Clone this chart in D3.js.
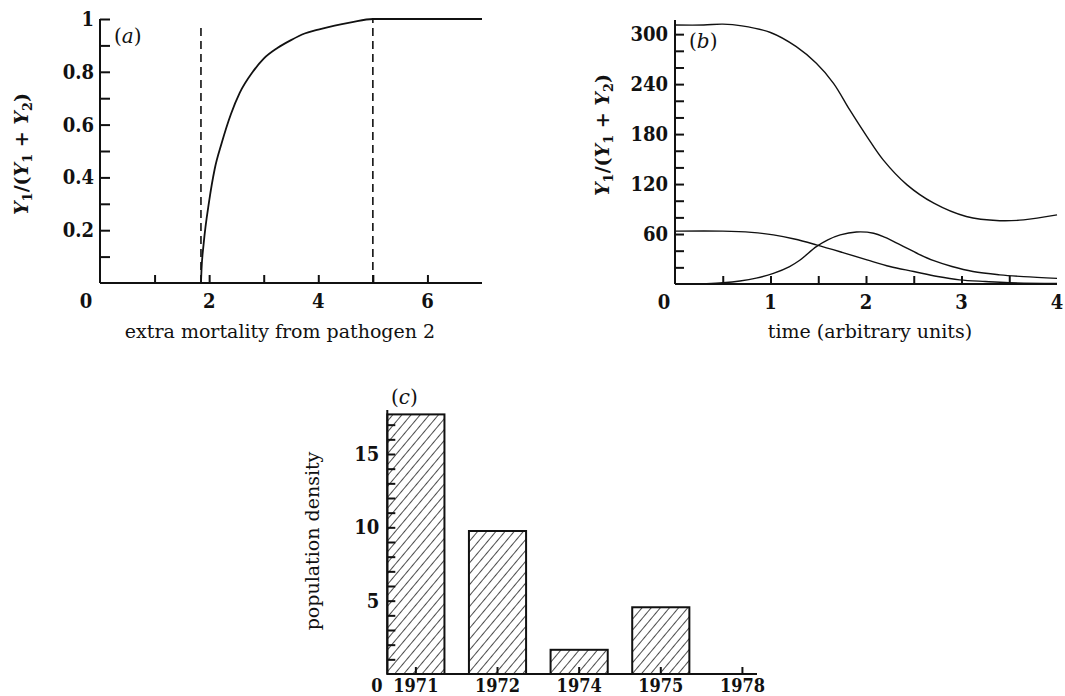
<!DOCTYPE html>
<html>
<head>
<meta charset="utf-8">
<script src="https://cdn.jsdelivr.net/npm/d3@7"></script>
<style>
  body { margin: 0; background: #fff; }
  svg { display: block; }
  .tick-lab { font-family: 'DejaVu Serif Condensed', 'DejaVu Serif', serif; font-weight: bold; font-size: 20px; fill: #111; }
  .ax-title { font-family: 'DejaVu Serif', serif; font-size: 19px; fill: #111; }
  .tag { font-family: 'DejaVu Serif', serif; font-size: 20px; fill: #111; }
  .y-title { font-family: 'DejaVu Serif', serif; font-size: 19px; font-weight: bold; fill: #111; }
</style>
</head>
<body>
<svg id="chart" width="1065" height="696"></svg>
<script>
// panel (a): fraction vs extra mortality
const mortX = [1.85, 1.86, 1.9, 2.0, 2.1, 2.23, 2.4, 2.56, 2.8, 3.0, 3.25, 3.5, 3.75, 4.0, 4.3, 4.6, 5.0, 6.0, 7.0];
const fracY = [0, 0.05, 0.15, 0.31, 0.43, 0.53, 0.64, 0.72, 0.8, 0.85, 0.89, 0.92, 0.945, 0.96, 0.975, 0.987, 1.0, 1.0, 1.0];
const dashX = [1.85, 5.0];
const dashTop = [0.985, 1.0];
const aYTicks = [0.2, 0.4, 0.6, 0.8, 1];
const aXTicks = [2, 4, 6];

// panel (b): three curves over time
const timeTop = [0, 0.3, 0.5, 0.7, 1.0, 1.27, 1.48, 1.66, 1.83, 2.01, 2.18, 2.43, 2.71, 3.05, 3.4, 3.65, 4.0];
const valTop = [311, 311, 312, 310, 302, 285, 265, 241, 209, 177, 149, 119, 97, 81, 76, 77, 83];
const timeFall = [0, 0.5, 0.8, 1.03, 1.25, 1.48, 1.75, 2.01, 2.25, 2.5, 2.75, 2.98, 3.25, 3.5, 4.0];
const valFall = [63.5, 63.5, 62, 59, 54, 47, 38, 29, 21, 15, 9, 5, 3, 1.6, 0.8];
const timeHump = [0.33, 0.5, 0.68, 0.85, 1.03, 1.2, 1.31, 1.48, 1.6, 1.73, 1.9, 2.08, 2.2, 2.36, 2.55, 2.71, 2.9, 3.12, 3.4, 3.65, 4.0];
const valHump = [0.5, 1.5, 3.6, 7, 12.8, 21, 28.8, 44.8, 53, 59, 62.5, 61, 56, 47, 36, 28, 21, 15, 11, 8.8, 6.8];
const bYTicks = [60, 120, 180, 240, 300];
const bXTicks = [1, 2, 3, 4];

// panel (c): population density by year
const years = ['1971', '1972', '1974', '1975', '1978'];
const density = [17.7, 9.75, 1.65, 4.55, 0];
const cYTicks = [5, 10, 15];

const svg = d3.select('#chart');

// hatch pattern for bars
svg.append('defs').append('pattern')
  .attr('id', 'hatch')
  .attr('patternUnits', 'userSpaceOnUse')
  .attr('width', 7).attr('height', 7)
  .attr('patternTransform', 'rotate(40)')
  .append('line')
  .attr('x1', 0).attr('y1', 0).attr('x2', 0).attr('y2', 7)
  .attr('stroke', '#000').attr('stroke-width', 1.4);

// Y1/(Y1+Y2) title, rotated
function fracTitle(cx, cy) {
  const t = svg.append('text').attr('class', 'y-title')
    .attr('text-anchor', 'middle')
    .attr('transform', `translate(${cx},${cy}) rotate(-90)`);
  const parts = [['Y', 'i'], ['1', 's'], ['/(', ''], ['Y', 'i'], ['1', 's'], [' + ', ''], ['Y', 'i'], ['2', 's'], [')', '']];
  parts.forEach(([s, k], i) => {
    const sp = t.append('tspan').text(s);
    if (k === 'i') sp.attr('font-style', 'italic');
    if (k === 's') sp.attr('font-size', '13px').attr('dy', 4);
    else if (i > 0 && parts[i - 1][1] === 's') sp.attr('dy', -4);
  });
}

function panelTag(x, y, letter) {
  const t = svg.append('text').attr('class', 'tag').attr('x', x).attr('y', y);
  t.append('tspan').text('(');
  t.append('tspan').attr('font-style', 'italic').text(letter);
  t.append('tspan').text(')');
}

// ---------- panel (a) ----------
(function() {
  const x = d3.scaleLinear().domain([0, 7]).range([100, 482]);
  const y = d3.scaleLinear().domain([0, 1]).range([283, 19]);
  const g = svg.append('g');

  g.append('g').attr('transform', `translate(${x(0)},0)`)
    .call(d3.axisRight(y).tickValues(d3.range(1, 11).map(d => d / 10)).tickSize(10).tickFormat(''))
    .call(a => a.selectAll('line,path').attr('stroke', '#111').attr('stroke-width', 2))
    .call(a => a.select('.domain').attr('d', `M0,${y(0)}V${y(1)}`));
  g.append('g').attr('transform', `translate(0,${y(0)})`)
    .call(d3.axisTop(x).tickValues([1, 2, 3, 4, 5, 6]).tickSize(8).tickFormat(''))
    .call(a => a.selectAll('line,path').attr('stroke', '#111').attr('stroke-width', 2))
    .call(a => a.select('.domain').attr('d', `M${x(0)},0H${x(7)}`));

  g.selectAll('.ylab').data(aYTicks).enter().append('text').attr('class', 'tick-lab')
    .attr('x', x(0) - 6).attr('y', d => y(d) + 7).attr('text-anchor', 'end')
    .text(d => d3.format('~g')(d));
  g.selectAll('.xlab').data(aXTicks).enter().append('text').attr('class', 'tick-lab')
    .attr('x', d => x(d)).attr('y', y(0) + 25).attr('text-anchor', 'middle').text(d => d);
  g.append('text').attr('class', 'tick-lab').attr('x', x(0) - 14).attr('y', y(0) + 25)
    .attr('text-anchor', 'middle').text('0');

  g.selectAll('.dash').data(dashX).enter().append('line')
    .attr('x1', d => x(d)).attr('x2', d => x(d))
    .attr('y1', y(0)).attr('y2', (d, i) => y(dashTop[i]))
    .attr('stroke', '#111').attr('stroke-width', 1.6).attr('stroke-dasharray', '8,5');

  g.append('path').datum(mortX.map((v, i) => [v, fracY[i]]))
    .attr('fill', 'none').attr('stroke', '#111').attr('stroke-width', 1.8)
    .attr('d', d3.line().x(d => x(d[0])).y(d => y(d[1])).curve(d3.curveMonotoneX));

  g.append('text').attr('class', 'ax-title').attr('x', 280).attr('y', 338)
    .attr('text-anchor', 'middle').text('extra mortality from pathogen 2');
  panelTag(114, 43, 'a');
  fracTitle(28, 154);
})();

// ---------- panel (b) ----------
(function() {
  const x = d3.scaleLinear().domain([0, 4]).range([675, 1057]);
  const y = d3.scaleLinear().domain([0, 317]).range([284, 20]);
  const g = svg.append('g');

  g.append('g').attr('transform', `translate(${x(0)},0)`)
    .call(d3.axisRight(y).tickValues(d3.range(20, 301, 20)).tickSize(9).tickFormat(''))
    .call(a => a.selectAll('line,path').attr('stroke', '#111').attr('stroke-width', 2))
    .call(a => a.select('.domain').attr('d', `M0,${y(0)}V${y(317)}`));
  g.append('g').attr('transform', `translate(0,${y(0)})`)
    .call(d3.axisTop(x).tickValues(d3.range(0.5, 4, 0.5)).tickSize(8).tickFormat(''))
    .call(a => a.selectAll('line,path').attr('stroke', '#111').attr('stroke-width', 2))
    .call(a => a.select('.domain').attr('d', `M${x(0)},0H${x(4)}`));

  g.selectAll('.ylab').data(bYTicks).enter().append('text').attr('class', 'tick-lab')
    .attr('x', x(0) - 7).attr('y', d => y(d) + 7).attr('text-anchor', 'end').text(d => d);
  g.selectAll('.xlab').data(bXTicks).enter().append('text').attr('class', 'tick-lab')
    .attr('x', d => x(d)).attr('y', y(0) + 25).attr('text-anchor', 'middle').text(d => d);
  g.append('text').attr('class', 'tick-lab').attr('x', x(0) - 11).attr('y', y(0) + 25)
    .attr('text-anchor', 'middle').text('0');

  const line = d3.line().x(d => x(d[0])).y(d => y(d[1])).curve(d3.curveCatmullRom.alpha(0.5));
  [[timeTop, valTop], [timeFall, valFall], [timeHump, valHump]].forEach(([ts, vs]) => {
    g.append('path').datum(ts.map((t, i) => [t, vs[i]]))
      .attr('fill', 'none').attr('stroke', '#111').attr('stroke-width', 1.4).attr('d', line);
  });

  g.append('text').attr('class', 'ax-title').attr('x', 870).attr('y', 338)
    .attr('text-anchor', 'middle').text('time (arbitrary units)');
  panelTag(689, 48, 'b');
  fracTitle(609, 135);
})();

// ---------- panel (c) ----------
(function() {
  const x = d3.scaleBand().domain(years).range([387.3, 771]).paddingInner(0.3).paddingOuter(0);
  const y = d3.scaleLinear().domain([0, 18]).range([674, 410]);
  const g = svg.append('g');

  g.selectAll('rect').data(years.filter((d, i) => density[i] > 0)).enter().append('rect')
    .attr('x', d => x(d)).attr('width', x.bandwidth())
    .attr('y', d => y(density[years.indexOf(d)]))
    .attr('height', d => y(0) - y(density[years.indexOf(d)]))
    .attr('fill', 'url(#hatch)').attr('stroke', '#111').attr('stroke-width', 2);

  g.append('g').attr('transform', `translate(${x.range()[0]},0)`)
    .call(d3.axisRight(y).tickValues(d3.range(1, 18)).tickSize(8).tickFormat(''))
    .call(a => a.selectAll('line,path').attr('stroke', '#111').attr('stroke-width', 2))
    .call(a => a.select('.domain').attr('d', `M0,${y(0)}V${y(18)}`));
  g.append('g').attr('transform', `translate(0,${y(0)})`)
    .call(d3.axisTop(x).tickSize(7).tickFormat(''))
    .call(a => a.selectAll('line,path').attr('stroke', '#111').attr('stroke-width', 2))
    .call(a => a.select('.domain').attr('d', `M${x.range()[0]},0H757`));

  g.selectAll('.ylab').data(cYTicks).enter().append('text').attr('class', 'tick-lab')
    .attr('x', x.range()[0] - 8).attr('y', d => y(d) + 7).attr('text-anchor', 'end').text(d => d);
  g.selectAll('.xlab').data(years).enter().append('text').attr('class', 'tick-lab')
    .style('font-size', '18px')
    .attr('x', d => x(d) + x.bandwidth() / 2).attr('y', 691.5).attr('text-anchor', 'middle').text(d => d);
  g.append('text').attr('class', 'tick-lab').style('font-size', '18px').attr('x', 377).attr('y', 691.5)
    .attr('text-anchor', 'middle').text('0');

  g.append('text').attr('class', 'ax-title')
    .attr('transform', 'translate(319,541) rotate(-90)')
    .attr('text-anchor', 'middle').text('population density');
  panelTag(391, 404, 'c');
})();
</script>
</body>
</html>
